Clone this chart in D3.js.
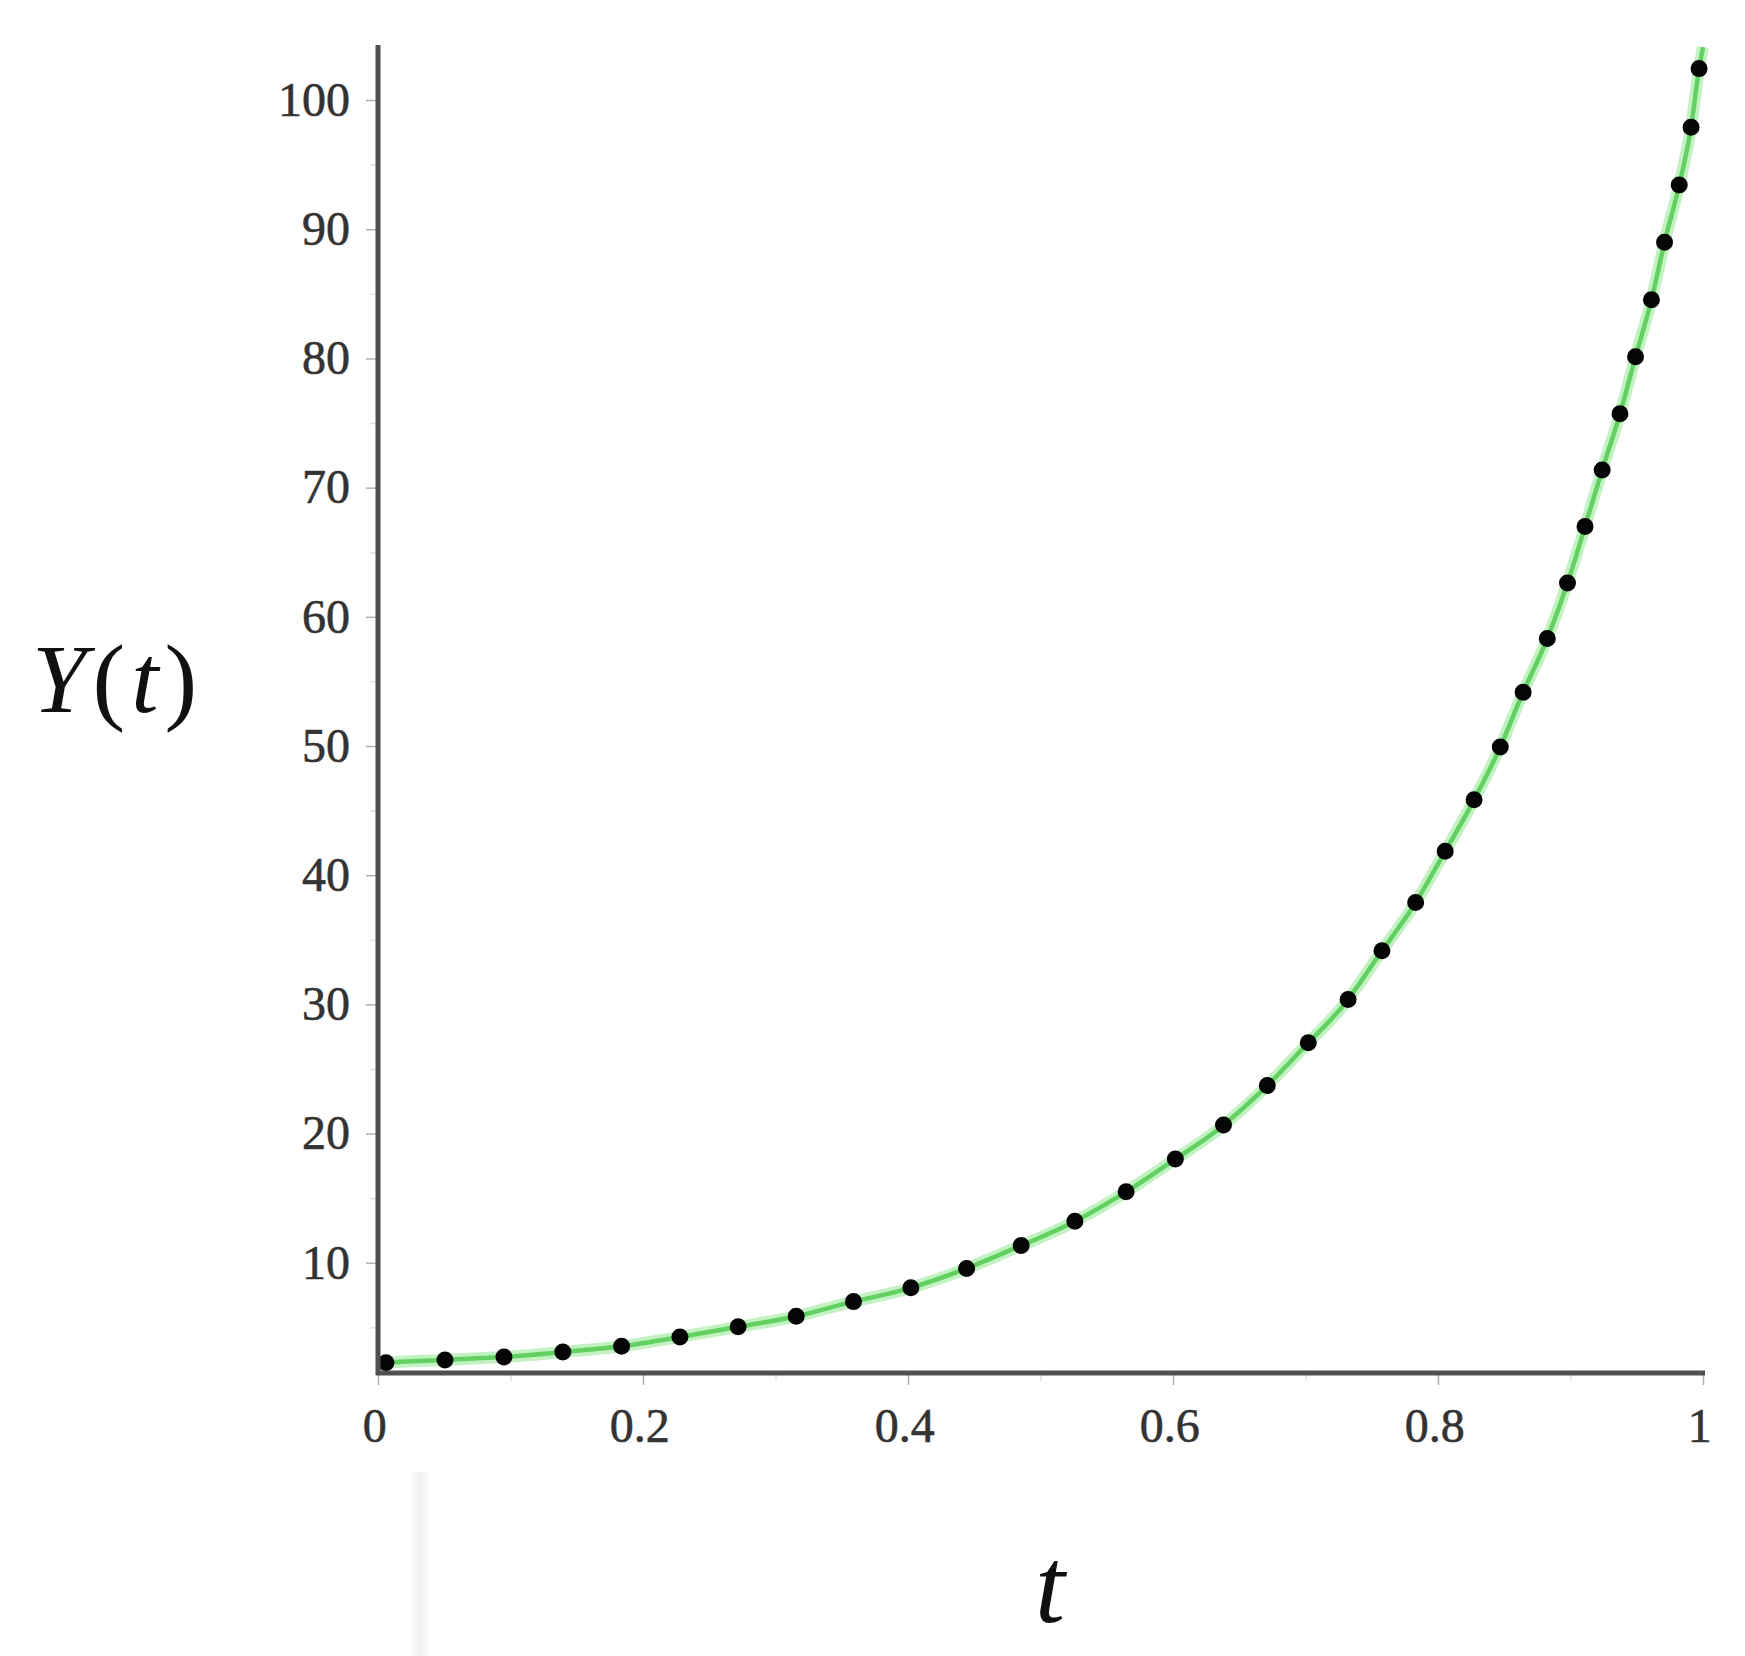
<!DOCTYPE html>
<html>
<head>
<meta charset="utf-8">
<script src="https://cdn.jsdelivr.net/npm/d3@7"></script>
<style>
  html, body { margin: 0; padding: 0; background: #ffffff; }
  svg { display: block; }
</style>
</head>
<body>
<svg id="chart" width="1745" height="1656"></svg>
<script>
// ---- data ----
const tValues = [0, 0.005, 0.05, 0.096, 0.14, 0.185, 0.228, 0.271, 0.313, 0.355, 0.40, 0.44, 0.48, 0.52, 0.56, 0.597, 0.635, 0.667, 0.699, 0.73, 0.756, 0.782, 0.804, 0.826, 0.846, 0.864, 0.882, 0.898, 0.911, 0.924, 0.937, 0.949, 0.961, 0.971, 0.982, 0.991, 0.997, 1.0];
const yValues = [2.2, 2.25, 2.48, 2.72, 3.1, 3.56, 4.26, 5.03, 5.8, 6.9, 8.0, 9.4, 11.1, 12.9, 15.2, 17.7, 20.4, 23.3, 26.7, 30.1, 33.9, 37.7, 41.6, 45.6, 49.7, 54.1, 58.2, 62.7, 67.0, 71.4, 75.6, 80.1, 84.5, 89.0, 93.4, 97.9, 102.4, 104.1];
const xTicks = [0, 0.2, 0.4, 0.6, 0.8, 1];
const xTickLabels = ["0", "0.2", "0.4", "0.6", "0.8", "1"];
const xMinorTicks = [0.1, 0.3, 0.5, 0.7, 0.9];
const yTicks = [10, 20, 30, 40, 50, 60, 70, 80, 90, 100];
const yMinorTicks = [5, 15, 25, 35, 45, 55, 65, 75, 85, 95];
const xDomain = [0, 1];
const yDomain = [1.47, 104.26];
const yLabelParts = [{txt: "Y", it: true}, {txt: "(", it: false}, {txt: "t", it: true}, {txt: ")", it: false}];
const xLabel = "t";

const svg = d3.select("#chart");
const x = d3.scaleLinear().domain(xDomain).range([378, 1703]);
const y = d3.scaleLinear().domain(yDomain).range([1373, 45]);

// faint scan artifact below the axis
const defs = svg.append("defs");
const grad = defs.append("linearGradient").attr("id", "fade").attr("x1", 0).attr("x2", 1);
grad.append("stop").attr("offset", "0%").attr("stop-color", "#ffffff");
grad.append("stop").attr("offset", "50%").attr("stop-color", "#f0f0f0");
grad.append("stop").attr("offset", "100%").attr("stop-color", "#ffffff");
svg.append("rect").attr("x", 408).attr("y", 1472).attr("width", 24).attr("height", 184)
  .attr("fill", "url(#fade)");

const tickFont = "'Liberation Serif', 'Times New Roman', serif";

// minor ticks
svg.append("g").attr("transform", `translate(${x(0)},0)`)
  .call(d3.axisLeft(y).tickValues(yMinorTicks).tickSize(8).tickFormat(""))
  .call(g => g.select(".domain").remove())
  .call(g => g.selectAll("line").attr("stroke", "#e0e0e0").attr("stroke-width", 1.5));
svg.append("g").attr("transform", `translate(0,${y(yDomain[0])})`)
  .call(d3.axisBottom(x).tickValues(xMinorTicks).tickSize(8).tickFormat(""))
  .call(g => g.select(".domain").remove())
  .call(g => g.selectAll("line").attr("stroke", "#e0e0e0").attr("stroke-width", 1.5));

// major ticks + labels
svg.append("g").attr("transform", `translate(${x(0)},0)`)
  .call(d3.axisLeft(y).tickValues(yTicks).tickSize(12).tickPadding(16).tickFormat(d3.format("d")))
  .call(g => g.select(".domain").remove())
  .call(g => g.selectAll("line").attr("stroke", "#b0b0b0").attr("stroke-width", 1.5))
  .call(g => g.selectAll("text").attr("font-family", tickFont).attr("font-size", 48)
    .attr("fill", "#333").attr("stroke", "#333").attr("stroke-width", 0.6));

svg.append("g").attr("transform", `translate(0,${y(yDomain[0])})`)
  .call(d3.axisBottom(x).tickValues(xTicks).tickSize(12).tickPadding(23)
    .tickFormat((d, i) => xTickLabels[i]))
  .call(g => g.select(".domain").remove())
  .call(g => g.selectAll("line").attr("stroke", "#b0b0b0").attr("stroke-width", 1.5))
  .call(g => g.selectAll("text").attr("font-family", tickFont).attr("font-size", 48)
    .attr("fill", "#333").attr("stroke", "#333").attr("stroke-width", 0.6).attr("dx", "-0.08em"));

// curve
const pts = tValues.map((t, i) => [t, yValues[i]]);
const line = d3.line().x(d => x(d[0])).y(d => y(d[1])).curve(d3.curveMonotoneX);

svg.append("path").datum(pts).attr("d", line)
  .attr("fill", "none").attr("stroke", "#c2f2c2").attr("stroke-width", 12)
  .attr("stroke-linejoin", "round");
svg.append("path").datum(pts).attr("d", line)
  .attr("fill", "none").attr("stroke", "#62d162").attr("stroke-width", 4.5)
  .attr("stroke-linejoin", "round");

// dotted overlay (dotted line style)
const dotPath = svg.append("path").datum(pts).attr("d", line)
  .attr("fill", "none").attr("stroke", "#050505").attr("stroke-width", 17)
  .attr("stroke-linecap", "round");
const L = dotPath.node().getTotalLength();
const startOff = 8, tail = 22, nGaps = 35;
const gap = (L - startOff - tail) / nGaps;
dotPath.attr("stroke-dasharray", `0 ${gap}`).attr("stroke-dashoffset", gap - startOff);

// axes lines
svg.append("line").attr("x1", x(0)).attr("x2", x(0)).attr("y1", 45).attr("y2", y(yDomain[0]) + 2)
  .attr("stroke", "#505050").attr("stroke-width", 5);
svg.append("line").attr("x1", x(0) - 2).attr("x2", x(1) + 2).attr("y1", y(yDomain[0])).attr("y2", y(yDomain[0]))
  .attr("stroke", "#505050").attr("stroke-width", 5);

// axis labels
const mathFont = "'Liberation Serif', 'DejaVu Serif', serif";
const yl = svg.append("text").attr("x", 32).attr("y", 712)
  .attr("font-family", mathFont).attr("font-size", 98).attr("fill", "#111")
  .attr("letter-spacing", 6);
yLabelParts.forEach(p => yl.append("tspan").text(p.txt).attr("font-style", p.it ? "italic" : "normal"));

svg.append("text").attr("x", 1050).attr("y", 1622).attr("text-anchor", "middle")
  .attr("font-family", mathFont).attr("font-size", 108).attr("font-style", "italic")
  .attr("fill", "#111").text(xLabel);
</script>
</body>
</html>
